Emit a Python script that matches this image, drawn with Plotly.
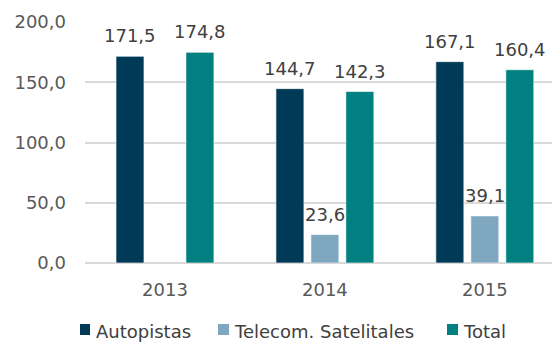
import plotly.graph_objects as go

years = ["2013", "2014", "2015"]
autopistas = [171.5, 144.7, 167.1]
telecom = [None, 23.6, 39.1]
total = [174.8, 142.3, 160.4]

series = [
    ("Autopistas", autopistas, "#003A57"),
    ("Telecom. Satelitales", telecom, "#7FA8C0"),
    ("Total", total, "#008080"),
]
y_ticks = [0, 50, 100, 150, 200]

FONT = "DejaVu Sans, Verdana, sans-serif"

fig = go.Figure()
for name, vals, color in series:
    fig.add_trace(go.Bar(
        name=name, x=years, y=vals,
        marker=dict(color=color, line=dict(color="rgba(255,255,255,0.6)", width=1)),
        showlegend=False,
    ))

# value labels above each bar, offset per series slot
offsets = [-35, 0, 35]
for (name, vals, color), dx in zip(series, offsets):
    for i, v in enumerate(vals):
        if v is None:
            continue
        fig.add_annotation(
            x=i, y=v, xref="x", yref="y", xshift=dx, yshift=8, yanchor="bottom",
            text=f"{v:.1f}".replace(".", ","), showarrow=False,
            font=dict(size=18, color="#404040", family=FONT),
        )

# legend along the bottom edge: colored square + label
legend_sq = [(-0.0107, 0.0107), (0.2848, 0.3084), (0.7752, 0.7987)]
legend_tx = [0.019, 0.3147, 0.8051]
for (name, vals, color), (s0, s1), tx in zip(series, legend_sq, legend_tx):
    fig.add_shape(type="rect", xref="paper", yref="paper",
                  x0=s0, x1=s1, y0=-0.2988, y1=-0.2531,
                  fillcolor=color, line=dict(width=0))
    fig.add_annotation(x=tx, y=-0.233, xref="paper", yref="paper",
                       xanchor="left", yanchor="top", text=name, showarrow=False,
                       font=dict(size=18, color="#404040", family=FONT))

fig.update_layout(
    width=552, height=342,
    margin=dict(l=85, r=0, t=22, b=79, autoexpand=False),
    paper_bgcolor="white", plot_bgcolor="white",
    barmode="group", bargap=0.344, bargroupgap=0.2,
    separators=",.",
    font=dict(family=FONT, size=18, color="#595959"),
    showlegend=False,
)
fig.update_xaxes(
    type="category", range=[-0.5, 2.42], showgrid=False,
    showline=False, ticks="", tickfont=dict(size=18, color="#595959"),
    ticklabelstandoff=14,
)
fig.update_yaxes(
    range=[0, 200], tickvals=y_ticks, tickformat=".1f",
    showgrid=True, gridcolor="#D9D9D9", gridwidth=2,
    zeroline=True, zerolinecolor="#D9D9D9", zerolinewidth=2,
    ticks="", tickfont=dict(size=18, color="#595959"),
    ticklabelstandoff=18,
)

fig.write_html("out.html")
